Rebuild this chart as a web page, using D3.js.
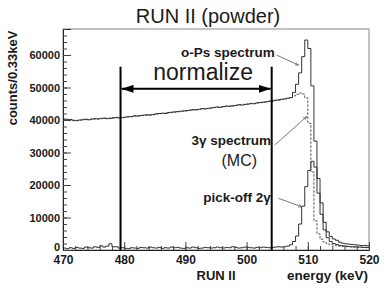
<!DOCTYPE html>
<html>
<head>
<meta charset="utf-8">
<script src="https://cdn.jsdelivr.net/npm/d3@7"></script>
<style>
  body { margin: 0; background: #fff; }
  text { font-family: "Liberation Sans", Arial, sans-serif; fill: #1a1a1a; }
</style>
</head>
<body>
<div id="chart"></div>
<script>
// Spectrum data, 0.5 keV bins starting at 470 keV
const binStart = 470
const binWidth = 0.5

// o-Ps spectrum (measured, solid)
const oPsCounts = [
  40300, 40200, 40100, 39900, 39800, 40000, 40100, 40200, 40100, 40300,
  40400, 40300, 40500, 40600, 40400, 40500, 40700, 40800, 40600, 40700,
  40900, 41000, 41100, 41300, 41200, 41400, 41500, 41600, 41500, 41700,
  41900, 42000, 42100, 42000, 42300, 42400, 42500, 42600, 42700, 42800,
  42900, 43000, 43200, 43100, 43300, 43500, 43400, 43600, 43700, 43900,
  44000, 43900, 44100, 44300, 44200, 44400, 44500, 44700, 44600, 44800,
  44900, 45100, 45000, 45300, 45400, 45500, 45600, 45800, 45900, 46100,
  46200, 46400, 46500, 46700, 46900, 48500, 51000, 54500, 59500, 64600,
  62000, 50500, 33500, 22000, 14500, 8500, 5600, 4200, 3400, 3000,
  2400, 2100, 1900, 1800, 1700, 1600, 1500, 1400, 1400, 1300
]

// 3 gamma spectrum (MC, dashed)
const threeGammaCounts = [
  40100, 40000, 40200, 39800, 39900, 39900, 40000, 40300, 40000, 40200,
  40300, 40400, 40400, 40500, 40500, 40600, 40600, 40700, 40700, 40800,
  40800, 41000, 41000, 41200, 41300, 41300, 41400, 41500, 41600, 41600,
  41800, 41900, 42000, 42100, 42200, 42300, 42400, 42500, 42600, 42700,
  42800, 43000, 43100, 43200, 43200, 43400, 43500, 43500, 43700, 43800,
  43900, 44000, 44100, 44200, 44300, 44300, 44500, 44600, 44700, 44800,
  44900, 45000, 45100, 45200, 45300, 45400, 45600, 45700, 45800, 46000,
  46100, 46300, 46500, 46600, 46900, 47400, 47900, 48300, 48000, 46800,
  39000, 24000, 9000, 5000, 3300, 2500, 2000, 1700, 1500, 1300,
  1200, 1100, 1000, 1000, 900, 900, 800, 800, 800, 700
]

// pick-off 2 gamma (solid)
const pickOffCounts = [
  600, 400, 700, 500, 800, 600, 500, 900, 700, 600,
  1000, 800, 1300, 900, 1200, 1900, 1000, 1000, 600, 700,
  500, 400, 700, 600, 500, 800, 700, 600, 900, 700,
  600, 800, 500, 700, 600, 900, 700, 800, 600, 500,
  700, 600, 900, 700, 500, 600, 800, 700, 600, 700,
  900, 700, 600, 800, 700, 1000, 800, 600, 700, 900,
  800, 700, 600, 800, 700, 900, 800, 700, 800, 900,
  1000, 900, 1000, 1200, 1600, 2600, 4300, 8000, 13500, 19500,
  24500, 27300, 25500, 17500, 11000, 6200, 3800, 2600, 2000, 1700,
  1400, 1300, 1200, 1100, 1000, 1000, 900, 900, 800, 800
]

// Axis ticks
const xTicks = [470, 480, 490, 500, 510, 520]
const yTicks = [0, 10000, 20000, 30000, 40000, 50000, 60000]

// Normalization window (keV) and annotation anchors (keV, counts)
const normRange = [479.4, 504.1]
const normTop = 56400
const normArrow = 49600
const labels = [
  { text: 'o-Ps spectrum', e: 504.6, c: 59500, anchor: 'end', size: 13.5, weight: 'bold' },
  { text: '3\u03b3 spectrum', e: 491.0, c: 32300, anchor: 'start', size: 13.5, weight: 'bold' },
  { text: '(MC)', e: 495.9, c: 25850, anchor: 'start', size: 16, weight: 'normal' },
  { text: 'pick-off 2\u03b3', e: 492.9, c: 14860, anchor: 'start', size: 13.5, weight: 'bold' }
]
const pointers = [
  { from: [504.9, 60000], to: [508.45, 56900] },
  { from: [504.6, 32300], to: [509.8, 41000] },
  { from: [505.2, 15900], to: [509.0, 13300] }
]

const width = 387
const height = 291
const margin = { top: 29, right: 18, bottom: 41, left: 63 }

const svg = d3.select('#chart')
  .append('svg')
  .attr('width', width)
  .attr('height', height)

const x = d3.scaleLinear().domain([470, 520]).range([margin.left, width - margin.right])
const y = d3.scaleLinear().domain([0, 68000]).range([height - margin.bottom, margin.top])

// Arrow markers
const defs = svg.append('defs')
defs.append('marker')
  .attr('id', 'thin')
  .attr('viewBox', '0 0 10 10')
  .attr('refX', 9).attr('refY', 5)
  .attr('markerWidth', 5).attr('markerHeight', 5)
  .attr('orient', 'auto')
  .append('path')
  .attr('d', 'M0,1 L10,5 L0,9')
  .attr('fill', 'none')
  .attr('stroke', '#555')
  .attr('stroke-width', 1.5)
defs.append('marker')
  .attr('id', 'bold')
  .attr('viewBox', '0 0 12 8')
  .attr('refX', 12).attr('refY', 4)
  .attr('markerWidth', 6).attr('markerHeight', 4)
  .attr('markerUnits', 'strokeWidth')
  .attr('orient', 'auto-start-reverse')
  .append('path')
  .attr('d', 'M0,0 L12,4 L0,8 Z')
  .attr('fill', '#000')

// Frame (top/right)
svg.append('rect')
  .attr('x', margin.left)
  .attr('y', margin.top)
  .attr('width', width - margin.left - margin.right)
  .attr('height', height - margin.top - margin.bottom)
  .attr('fill', 'none')
  .attr('stroke', '#888')
  .attr('stroke-width', 1)

// Histogram step paths
const steps = counts => {
  const pts = counts.map((c, i) => [binStart + i * binWidth, c])
  pts.push([binStart + counts.length * binWidth, counts[counts.length - 1]])
  return d3.line()
    .x(d => x(d[0]))
    .y(d => y(d[1]))
    .curve(d3.curveStepAfter)(pts)
}

svg.append('path')
  .attr('d', steps(threeGammaCounts))
  .attr('fill', 'none')
  .attr('stroke', '#555')
  .attr('stroke-width', 1)
  .attr('stroke-dasharray', '2.5,1.5')

svg.append('path')
  .attr('d', steps(pickOffCounts))
  .attr('fill', 'none')
  .attr('stroke', '#333')
  .attr('stroke-width', 1)

svg.append('path')
  .attr('d', steps(oPsCounts))
  .attr('fill', 'none')
  .attr('stroke', '#333')
  .attr('stroke-width', 1)

// Axes
const xAxis = svg.append('g')
  .attr('transform', `translate(0, ${y(0)})`)
  .call(d3.axisBottom(x).tickValues(xTicks).tickSize(-8).tickPadding(5).tickFormat(d3.format('d')))
xAxis.append('g')
  .call(d3.axisBottom(x).tickValues(d3.range(470, 521, 2)).tickSize(-4).tickFormat(''))
  .select('.domain').remove()

const yAxis = svg.append('g')
  .attr('transform', `translate(${x(470)}, 0)`)
  .call(d3.axisLeft(y).tickValues(yTicks).tickSize(-8).tickPadding(3).tickFormat(d3.format('d')))
yAxis.append('g')
  .call(d3.axisLeft(y).tickValues(d3.range(0, 68001, 2000)).tickSize(-4).tickFormat(''))
  .select('.domain').remove()

svg.selectAll('.domain').attr('stroke', '#222')
svg.selectAll('.tick line').attr('stroke', '#444')
svg.selectAll('.tick text')
  .style('font-family', '"Liberation Sans", Arial, sans-serif')
  .style('font-weight', 'bold')
  .attr('fill', '#1a1a1a')
xAxis.selectAll('.tick text').style('font-size', '12px')
yAxis.selectAll('.tick text').style('font-size', '11px')
// keep the zero label clear of the 470 label
yAxis.selectAll('.tick text').filter(d => d === 0).attr('dy', '0.02em')

// Normalization window
svg.selectAll('.norm-line')
  .data(normRange)
  .enter().append('line')
  .attr('x1', d => x(d)).attr('x2', d => x(d))
  .attr('y1', y(normTop)).attr('y2', y(0))
  .attr('stroke', '#000')
  .attr('stroke-width', 2)

svg.append('line')
  .attr('x1', x(normRange[0]) + 1).attr('x2', x(normRange[1]) - 1)
  .attr('y1', y(normArrow)).attr('y2', y(normArrow))
  .attr('stroke', '#000')
  .attr('stroke-width', 2)
  .attr('marker-start', 'url(#bold)')
  .attr('marker-end', 'url(#bold)')

svg.append('text')
  .attr('x', (x(normRange[0]) + x(normRange[1])) / 2 + 7)
  .attr('y', 79.5)
  .attr('text-anchor', 'middle')
  .style('font-size', '23px')
  .text('normalize')

// Annotations
svg.selectAll('.pointer')
  .data(pointers)
  .enter().append('line')
  .attr('x1', d => x(d.from[0])).attr('y1', d => y(d.from[1]))
  .attr('x2', d => x(d.to[0])).attr('y2', d => y(d.to[1]))
  .attr('stroke', '#555')
  .attr('stroke-width', 0.8)
  .attr('marker-end', 'url(#thin)')

svg.selectAll('.label')
  .data(labels)
  .enter().append('text')
  .attr('x', d => x(d.e))
  .attr('y', d => y(d.c))
  .attr('text-anchor', d => d.anchor)
  .style('font-size', d => `${d.size}px`)
  .style('font-weight', d => d.weight)
  .text(d => d.text)

// Titles
svg.append('text')
  .attr('x', 208)
  .attr('y', 23)
  .attr('text-anchor', 'middle')
  .style('font-size', '20px')
  .text('RUN II (powder)')

svg.append('text')
  .attr('transform', 'translate(17, 78) rotate(-90)')
  .attr('text-anchor', 'middle')
  .style('font-size', '13px')
  .style('font-weight', 'bold')
  .text('counts/0.33keV')

svg.append('text')
  .attr('x', 216)
  .attr('y', 280)
  .attr('text-anchor', 'middle')
  .style('font-size', '13px')
  .style('font-weight', 'bold')
  .text('RUN II')

svg.append('text')
  .attr('x', 368)
  .attr('y', 280)
  .attr('text-anchor', 'end')
  .style('font-size', '13.5px')
  .style('font-weight', 'bold')
  .text('energy (keV)')
</script>
</body>
</html>
